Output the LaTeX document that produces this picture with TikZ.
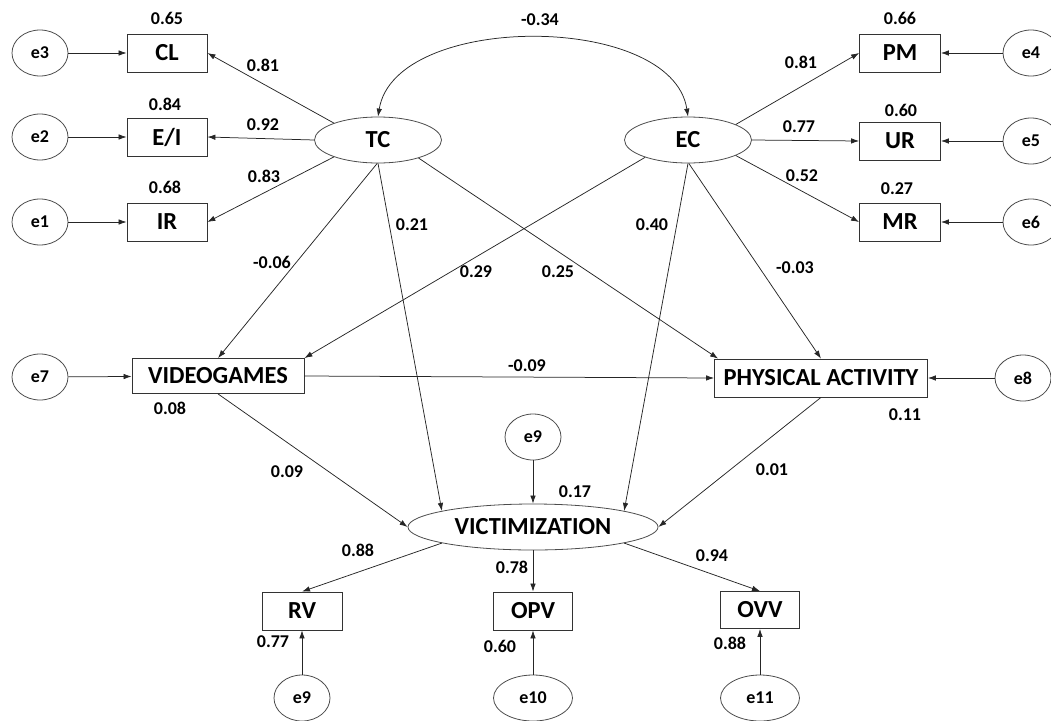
\documentclass[tikz,border=0pt]{standalone}
\usepackage{fontspec}
\setmainfont{Carlito}
\usetikzlibrary{shapes.geometric,arrows.meta,calc}
\begin{document}
\begin{tikzpicture}[x=1pt,y=-1pt,
  line/.style={draw=black!85,line width=0.75pt},
  arr/.style={line,-{Latex[length=8pt,width=5.5pt]}},
  darr/.style={line,{Latex[length=8pt,width=5.5pt]}-{Latex[length=8pt,width=5.5pt]}},
  obs/.style={draw=black!80,line width=0.8pt,rectangle,inner sep=0pt,font=\fontsize{24.5}{26}\bfseries\selectfont},
  lat/.style={draw=black!70,line width=0.8pt,ellipse,inner sep=0pt,minimum width=127pt,minimum height=46pt,font=\fontsize{24.5}{26}\bfseries\selectfont},
  err/.style={draw=black!70,line width=0.8pt,ellipse,inner sep=0pt,minimum width=56pt,minimum height=46pt,font=\fontsize{18}{20}\bfseries\selectfont},
  lab/.style={inner sep=0pt,font=\fontsize{18}{20}\bfseries\selectfont}]
\useasboundingbox (0,0) rectangle (1051,720);
\begin{scope}
\clip (0,0) rectangle (1051,720);
% latent
\node[lat] (TC) at (378,140) {TC};
\node[lat] (EC) at (688,140) {EC};
\node[lat,minimum width=250pt] (VIC) at (533,527) {VICTIMIZATION};
% observed
\node[obs,minimum width=80pt,minimum height=38pt] (CL) at (167,53) {CL};
\node[obs,minimum width=80pt,minimum height=38pt] (EI) at (167,137) {E/I};
\node[obs,minimum width=80pt,minimum height=38pt] (IR) at (167,222) {IR};
\node[obs,minimum width=81pt,minimum height=38pt] (PM) at (900,53) {PM};
\node[obs,minimum width=81pt,minimum height=38pt] (UR) at (900,141) {UR};
\node[obs,minimum width=81pt,minimum height=38pt] (MR) at (900,222) {MR};
\node[obs,minimum width=172pt,minimum height=35pt] (VG) at (218,376) {VIDEOGAMES};
\node[obs,minimum width=213pt,minimum height=38pt] (PA) at (821,378) {PHYSICAL ACTIVITY};
\node[obs,minimum width=80pt,minimum height=38pt] (RV) at (302,611) {RV};
\node[obs,minimum width=79pt,minimum height=38pt] (OPV) at (533,611) {OPV};
\node[obs,minimum width=79pt,minimum height=37pt] (OVV) at (760,610) {OVV};
% errors
\node[err] (e3) at (40,53) {e3};
\node[err] (e2) at (40,137) {e2};
\node[err] (e1) at (40,222) {e1};
\node[err] (e4) at (1031,53) {e4};
\node[err] (e5) at (1031,141) {e5};
\node[err] (e6) at (1031,222) {e6};
\node[err] (e7) at (40,377) {e7};
\node[err] (e8) at (1023,378) {e8};
\node[err] (e9a) at (533,437) {e9};
\node[err] (e9b) at (302,698) {e9};
\node[err,minimum width=79pt] (e10) at (533,698) {e10};
\node[err,minimum width=79pt] (e11) at (760,698) {e11};
% error arrows
\draw[arr] (e3) -- (CL);
\draw[arr] (e2) -- (EI);
\draw[arr] (e1) -- (IR);
\draw[arr] (e4) -- (PM);
\draw[arr] (e5) -- (UR);
\draw[arr] (e6) -- (MR);
\draw[arr] (e7) -- (VG);
\draw[arr] (e8) -- (PA);
\draw[arr] (e9a) -- (VIC);
\draw[arr] (e9b) -- (RV);
\draw[arr] (e10) -- (OPV);
\draw[arr] (e11) -- (OVV);
% measurement
\draw[arr] (TC.159) -- (CL.east);
\draw[arr] (TC.west) -- (EI.east);
\draw[arr] (TC.201) -- (IR.east);
\draw[arr] (EC.18) -- (PM.west);
\draw[arr] (EC.east) -- (UR.west);
\draw[arr] (EC.-18) -- (MR.west);
\draw[arr] (VIC.190) -- (RV.north);
\draw[arr] (VIC.south) -- (OPV.north);
\draw[arr] (VIC.-10) -- (OVV.north);
% structural
\coordinate (PAtl) at ($(PA.north west)+(4,0)$);
\draw[arr] (TC.268) -- (VG.north);
\draw[arr] (TC.south) -- (VIC.170);
\draw[arr] (TC.-24) -- (PAtl);
\draw[arr] (EC.202) -- (VG.north east);
\draw[arr] (EC.south) -- (VIC.10);
\draw[arr] (EC.272) -- (PA.north);
\draw[arr] (VG.east) -- (PA.west);
\draw[arr] (VG.south) -- (VIC.west);
\draw[arr] (PA.south) -- (VIC.east);
\draw[darr] (TC.north) .. controls (395,12) and (672,12) .. (EC.north);
\end{scope}
% labels
\node[lab] (l1) at (540,20) {-0.34};
\node[lab] (l2) at (167,18) {0.65};
\node[lab] (l3) at (165,104) {0.84};
\node[lab] (l4) at (165,187) {0.68};
\node[lab] (l5) at (263,65) {0.81};
\node[lab] (l6) at (263,125) {0.92};
\node[lab] (l7) at (264,176) {0.83};
\node[lab] (l8) at (900,18) {0.66};
\node[lab] (l9) at (901,110) {0.60};
\node[lab] (l10) at (897,189) {0.27};
\node[lab] (l11) at (801,62) {0.81};
\node[lab] (l12) at (799,127) {0.77};
\node[lab] (l13) at (802,176) {0.52};
\node[lab] (l14) at (272,262) {-0.06};
\node[lab] (l15) at (412,225) {0.21};
\node[lab] (l16) at (476,272) {0.29};
\node[lab] (l17) at (558,272) {0.25};
\node[lab] (l18) at (652,225) {0.40};
\node[lab] (l19) at (795,268) {-0.03};
\node[lab] (l20) at (527,366) {-0.09};
\node[lab] (l21) at (170,408) {0.08};
\node[lab] (l22) at (905,415) {0.11};
\node[lab] (l23) at (287,472) {0.09};
\node[lab] (l24) at (772,470) {0.01};
\node[lab] (l25) at (575,492) {0.17};
\node[lab] (l26) at (358,550) {0.88};
\node[lab] (l27) at (512,567) {0.78};
\node[lab] (l28) at (712,556) {0.94};
\node[lab] (l29) at (273,642) {0.77};
\node[lab] (l30) at (500,646) {0.60};
\node[lab] (l31) at (730,643) {0.88};
\end{tikzpicture}
\end{document}
